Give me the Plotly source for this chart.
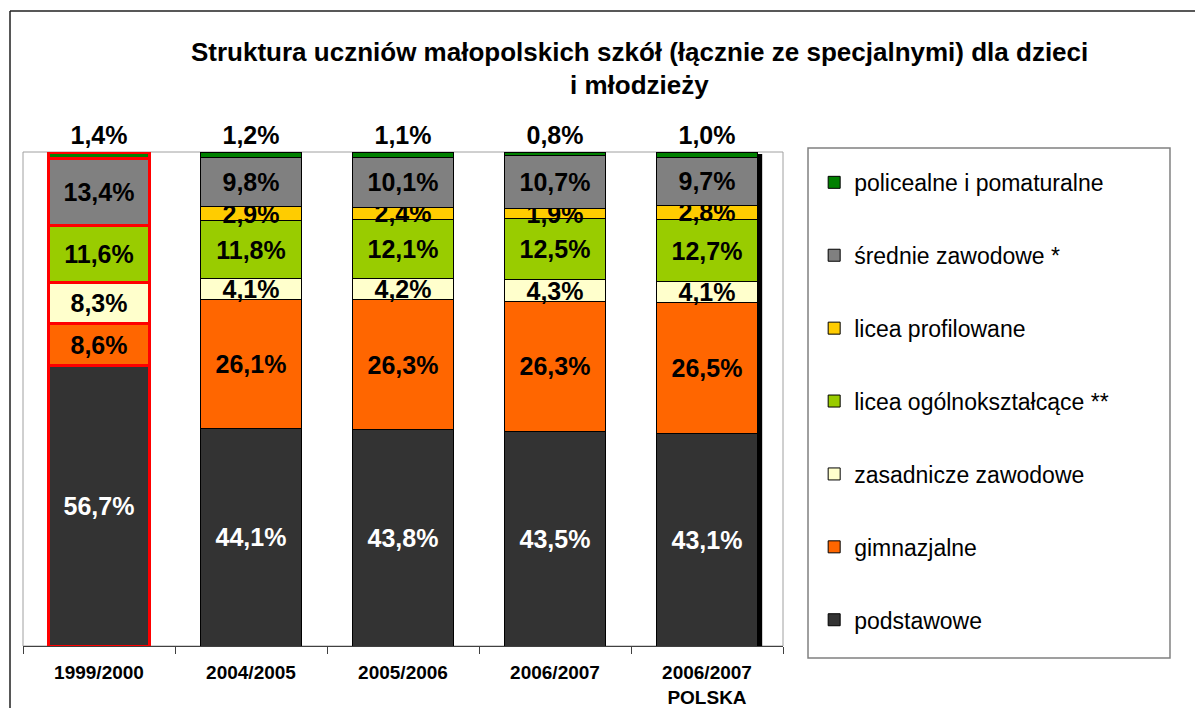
import plotly.graph_objects as go

categories = ["1999/2000", "2004/2005", "2005/2006", "2006/2007", "2006/2007<br>POLSKA"]

podstawowe = [56.7, 44.1, 43.8, 43.5, 43.1]
gimnazjalne = [8.6, 26.1, 26.3, 26.3, 26.5]
zasadnicze = [8.3, 4.1, 4.2, 4.3, 4.1]
licea_ogolne = [11.6, 11.8, 12.1, 12.5, 12.7]
licea_profilowane = [0.0, 2.9, 2.4, 1.9, 2.8]
srednie = [13.4, 9.8, 10.1, 10.7, 9.7]
policealne = [1.4, 1.2, 1.1, 0.8, 1.0]

series = [
    ("podstawowe", podstawowe, "#333333", "white"),
    ("gimnazjalne", gimnazjalne, "#FF6600", "black"),
    ("zasadnicze zawodowe", zasadnicze, "#FFFFCC", "black"),
    ("licea ogólnokształcące **", licea_ogolne, "#99CC00", "black"),
    ("licea profilowane", licea_profilowane, "#FFCC00", "black"),
    ("średnie zawodowe *", srednie, "#808080", "black"),
    ("policealne i pomaturalne", policealne, "#008000", "black"),
]

TITLE_1 = "Struktura uczniów małopolskich szkół (łącznie ze specjalnymi) dla dzieci"
TITLE_2 = "i młodzieży"

FONT = "Liberation Sans, Arial, sans-serif"
LABEL_SIZE = 25
BARGAP = 0.33
HIGHLIGHT = 0  # index of the category drawn with a red outline

def fmt(v):
    return "" if not v else f"{v:.1f}".replace(".", ",") + "%"

fig = go.Figure()
n = len(series)

def add_series(idx_list, line_color, line_width, show_legend):
    for i, (name, vals, color, tcolor) in enumerate(series):
        is_top = i == n - 1
        xs = [categories[k] for k in idx_list]
        ys = [vals[k] for k in idx_list]
        fig.add_trace(go.Bar(
            name=name,
            x=xs,
            y=ys,
            marker=dict(color=color, line=dict(color=line_color, width=line_width)),
            text=[fmt(v) for v in ys],
            textposition="outside" if is_top else "inside",
            insidetextanchor="middle",
            textangle=0,
            constraintext="none",
            cliponaxis=False,
            textfont=dict(family=FONT, size=LABEL_SIZE, color=tcolor, weight="bold"),
            outsidetextfont=dict(family=FONT, size=LABEL_SIZE, color="black", weight="bold"),
            legendgroup=name,
            legendrank=n - i,
            showlegend=show_legend,
            hoverinfo="skip",
        ))

others = [k for k in range(len(categories)) if k != HIGHLIGHT]
add_series(others, "#000000", 1, True)
add_series([HIGHLIGHT], "#FF0000", 3, False)

# plot frame (gray), legend box, outer frame
shapes = [
    dict(type="rect", xref="paper", yref="paper", x0=0, x1=1, y0=0, y1=1,
         line=dict(color="#A0A0A0", width=1), layer="below"),
    dict(type="rect", xref="paper", yref="paper", x0=1.0329, x1=1.5092, y0=-0.0243, y1=1.0081,
         line=dict(color="#808080", width=1.5), fillcolor="rgba(0,0,0,0)"),
    dict(type="line", xref="paper", yref="paper", x0=-0.0171, x1=1.7, y0=1.2854, y1=1.2854,
         line=dict(color="#202020", width=1.5)),
    dict(type="line", xref="paper", yref="paper", x0=-0.0171, x1=-0.0171, y0=-0.3, y1=1.2854,
         line=dict(color="#202020", width=1.5)),
]
# shadow on the right side of the last bar
last = len(categories) - 1
half = (1 - BARGAP) / 2
shapes.append(dict(type="rect", xref="x", yref="y",
                   x0=last + half, x1=last + half + 0.028,
                   y0=0, y1=sum(s[1][last] for s in series) - 0.3,
                   line=dict(width=0), fillcolor="black"))

fig.update_layout(
    width=1195, height=708,
    margin=dict(l=23, r=412, t=152, b=62, autoexpand=False),
    barmode="stack",
    bargap=BARGAP,
    paper_bgcolor="white",
    plot_bgcolor="white",
    showlegend=True,
    legend=dict(
        x=1.041, y=0.982, xanchor="left", yanchor="top",
        traceorder="grouped",
        tracegroupgap=40,
        font=dict(family=FONT, size=23, color="black"),
        bgcolor="rgba(0,0,0,0)",
        borderwidth=0,
    ),
    xaxis=dict(
        type="category",
        categoryorder="array", categoryarray=categories,
        automargin=False,
        showline=True, linecolor="#404040", linewidth=1,
        ticks="outside", tickson="boundaries", ticklen=7, tickcolor="#404040",
        ticklabelstandoff=9,
        tickfont=dict(family=FONT, size=19, color="black", weight="bold"),
        showgrid=False, zeroline=False,
    ),
    yaxis=dict(range=[0, 100], visible=False, showgrid=False, automargin=False),
    shapes=shapes,
    annotations=[
        dict(text=TITLE_1, xref="paper", yref="paper", x=0.811, y=1.2024,
             xanchor="center", yanchor="middle", showarrow=False,
             font=dict(family=FONT, size=26, color="black", weight="bold")),
        dict(text=TITLE_2, xref="paper", yref="paper", x=0.811, y=1.1356,
             xanchor="center", yanchor="middle", showarrow=False,
             font=dict(family=FONT, size=26, color="black", weight="bold")),
    ],
)

fig.write_html("out.html", config={"displayModeBar": False},
               post_script="document.body.style.margin='0px';")
